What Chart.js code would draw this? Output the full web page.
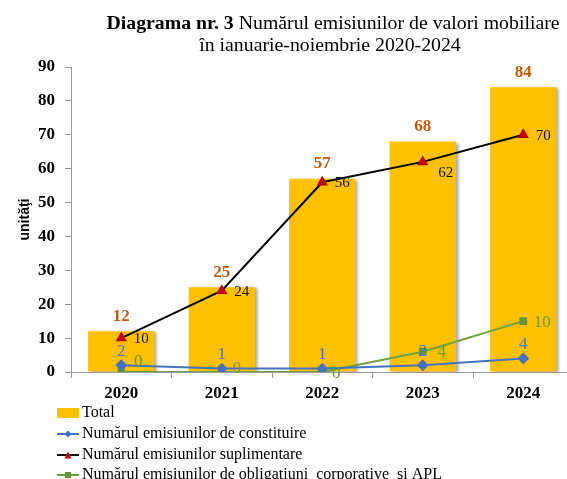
<!DOCTYPE html>
<html>
<head>
<meta charset="utf-8">
<script src="https://cdn.jsdelivr.net/npm/chart.js@4/dist/chart.umd.min.js"></script>
<style>
  html, body { margin: 0; padding: 0; background: #fff; overflow: hidden; }
  #wrap { position: relative; width: 567px; height: 479px; overflow: hidden; }
</style>
</head>
<body>
<div id="wrap"><canvas id="chart" width="580" height="479"></canvas></div>
<script>
// data
const years = ['2020', '2021', '2022', '2023', '2024'];
const total = [12, 25, 57, 68, 84];
const constituire = [2, 1, 1, 2, 4];
const suplimentare = [10, 24, 56, 62, 70];
const obligatiuni = [0, 0, 0, 4, 10];          // labels as printed
const obligatiuniPlot = [0, 0, 0, 6, 15];      // points as drawn in the picture

const SERIF = '"Liberation Serif", "Times New Roman", serif';

// bar shadow
const barShadow = {
  id: 'barShadow',
  beforeDatasetDraw(chart, args) {
    if (chart.data.datasets[args.index].type !== 'bar') return;
    const ctx = chart.ctx;
    ctx.save();
    ctx.shadowColor = 'rgba(0,0,0,0.35)';
    ctx.shadowOffsetX = 3;
    ctx.shadowOffsetY = 1;
    ctx.shadowBlur = 3;
  },
  afterDatasetDraw(chart, args) {
    if (chart.data.datasets[args.index].type !== 'bar') return;
    chart.ctx.restore();
  }
};

// value labels
const valueLabels = {
  id: 'valueLabels',
  afterDatasetsDraw(chart) {
    const ctx = chart.ctx;
    chart.data.datasets.forEach((ds, i) => {
      const meta = chart.getDatasetMeta(i);
      const lab = ds.labelStyle;
      meta.data.forEach((el, j) => {
        const off = (lab.offsets && lab.offsets[j]) || lab.offset;
        ctx.save();
        ctx.font = lab.font;
        ctx.fillStyle = lab.color;
        ctx.textAlign = 'center';
        ctx.textBaseline = 'middle';
        ctx.fillText(String(ds.labelValues[j]), el.x + off[0], el.y + off[1]);
        ctx.restore();
      });
    });
  }
};

// title + legend
const decorations = {
  id: 'decorations',
  afterDraw(chart) {
    const ctx = chart.ctx;
    ctx.save();
    ctx.fillStyle = '#000';
    ctx.textBaseline = 'middle';
    const bold = 'Diagrama nr. 3 ';
    const rest = 'Numărul emisiunilor de valori mobiliare';
    ctx.font = 'bold 19.8px ' + SERIF;
    const wb = ctx.measureText(bold).width;
    ctx.font = '19.8px ' + SERIF;
    const wr = ctx.measureText(rest).width;
    let x = 333 - (wb + wr) / 2;
    ctx.textAlign = 'left';
    ctx.font = 'bold 19.8px ' + SERIF;
    ctx.fillText(bold, x, 24);
    ctx.font = '19.8px ' + SERIF;
    ctx.fillText(rest, x + wb, 24);
    ctx.textAlign = 'center';
    ctx.fillText('în ianuarie-noiembrie 2020-2024', 330, 46);

    // legend
    const rows = [413, 434, 455, 475];
    ctx.textAlign = 'left';
    ctx.font = '16px ' + SERIF;
    chart.data.datasets.map((ds, i) => ({ ds, i }))
      .sort((a, b) => a.ds.legendRow - b.ds.legendRow)
      .forEach(({ ds }, k) => {
        const y = rows[k];
        if (ds.type === 'bar') {
          ctx.fillStyle = ds.backgroundColor;
          ctx.fillRect(57, y - 5, 22, 10);
        } else {
          ctx.strokeStyle = ds.borderColor;
          ctx.lineWidth = 2;
          ctx.beginPath();
          ctx.moveTo(57, y);
          ctx.lineTo(79, y);
          ctx.stroke();
          ctx.fillStyle = ds.pointBackgroundColor;
          const s = 3.5;
          ctx.beginPath();
          if (ds.pointStyle === 'triangle') {
            ctx.moveTo(68, y - s); ctx.lineTo(68 + s, y + s); ctx.lineTo(68 - s, y + s);
          } else if (ds.pointStyle === 'rectRot') {
            ctx.moveTo(68, y - s); ctx.lineTo(68 + s, y); ctx.lineTo(68, y + s); ctx.lineTo(68 - s, y);
          } else {
            ctx.rect(68 - s + 0.5, y - s + 0.5, 2 * s - 1, 2 * s - 1);
          }
          ctx.closePath();
          ctx.fill();
        }
        ctx.fillStyle = '#000';
        ctx.fillText(ds.label, 82, y);
      });
    ctx.restore();
  }
};

new Chart(document.getElementById('chart'), {
  data: {
    labels: years,
    datasets: [
      {
        type: 'line',
        label: 'Numărul emisiunilor de constituire',
        data: constituire,
        labelValues: constituire,
        borderColor: '#4472C4',
        borderWidth: 2,
        pointStyle: 'rectRot',
        pointRadius: 4.5,
        pointBackgroundColor: '#4472C4',
        pointBorderColor: '#4472C4',
        order: 2,
        legendRow: 1,
        labelStyle: { font: '17px ' + SERIF, color: '#4a73bd', offset: [0, -14] }
      },
      {
        type: 'line',
        label: 'Numărul emisiunilor suplimentare',
        data: suplimentare,
        labelValues: suplimentare,
        borderColor: '#000',
        borderWidth: 2,
        pointStyle: 'triangle',
        pointRadius: 4.5,
        pointBackgroundColor: '#C00000',
        pointBorderColor: '#C00000',
        order: 1,
        legendRow: 2,
        labelStyle: { font: '15px ' + SERIF, color: '#111', offset: [20, 1], offsets: { 3: [23, 11] } }
      },
      {
        type: 'line',
        label: 'Numărul emisiunilor de obligaţiuni  corporative  şi APL',
        data: obligatiuniPlot,
        labelValues: obligatiuni,
        borderColor: '#70A040',
        borderWidth: 2,
        pointStyle: 'rect',
        pointRadius: 4,
        pointBackgroundColor: '#5E9639',
        pointBorderColor: '#5E9639',
        order: 3,
        legendRow: 3,
        labelStyle: { font: '17px ' + SERIF, color: '#6a9a3a', offset: [19, 1], offsets: { 0: [17, -10], 1: [15, -3], 2: [14, 2] } }
      },
      {
        type: 'bar',
        label: 'Total',
        data: total,
        labelValues: total,
        backgroundColor: '#FFC000',
        barPercentage: 0.66,
        categoryPercentage: 1,
        order: 10,
        legendRow: 0,
        labelStyle: { font: 'bold 17px ' + SERIF, color: '#C55A11', offset: [0, -15] }
      }
    ]
  },
  options: {
    responsive: false,
    animation: false,
    layout: { padding: { top: 67, right: 0, bottom: 0, left: 0 } },
    plugins: { legend: { display: false }, tooltip: { enabled: false } },
    scales: {
      x: {
        offset: true,
        afterFit(scale) { scale.height = 107; },
        grid: { display: true, offset: true, drawOnChartArea: false, tickLength: 6, color: '#999' },
        border: { color: '#999', width: 1 },
        ticks: { color: '#000', padding: 5, font: { family: SERIF, size: 17, weight: 'bold' } }
      },
      y: {
        min: 0,
        max: 90,
        afterFit(scale) { scale.width = 71; },
        grid: { display: true, drawOnChartArea: false, tickLength: 6, color: '#999' },
        border: { color: '#999', width: 1 },
        ticks: { stepSize: 10, color: '#000', padding: 10, font: { family: SERIF, size: 17, weight: 'bold' } },
        title: { display: true, text: 'unităţi', color: '#000', padding: { top: 17, bottom: 0 }, font: { family: '"Liberation Sans", Arial, sans-serif', size: 14, weight: 'bold' } }
      }
    }
  },
  plugins: [barShadow, valueLabels, decorations]
});
</script>
</body>
</html>
